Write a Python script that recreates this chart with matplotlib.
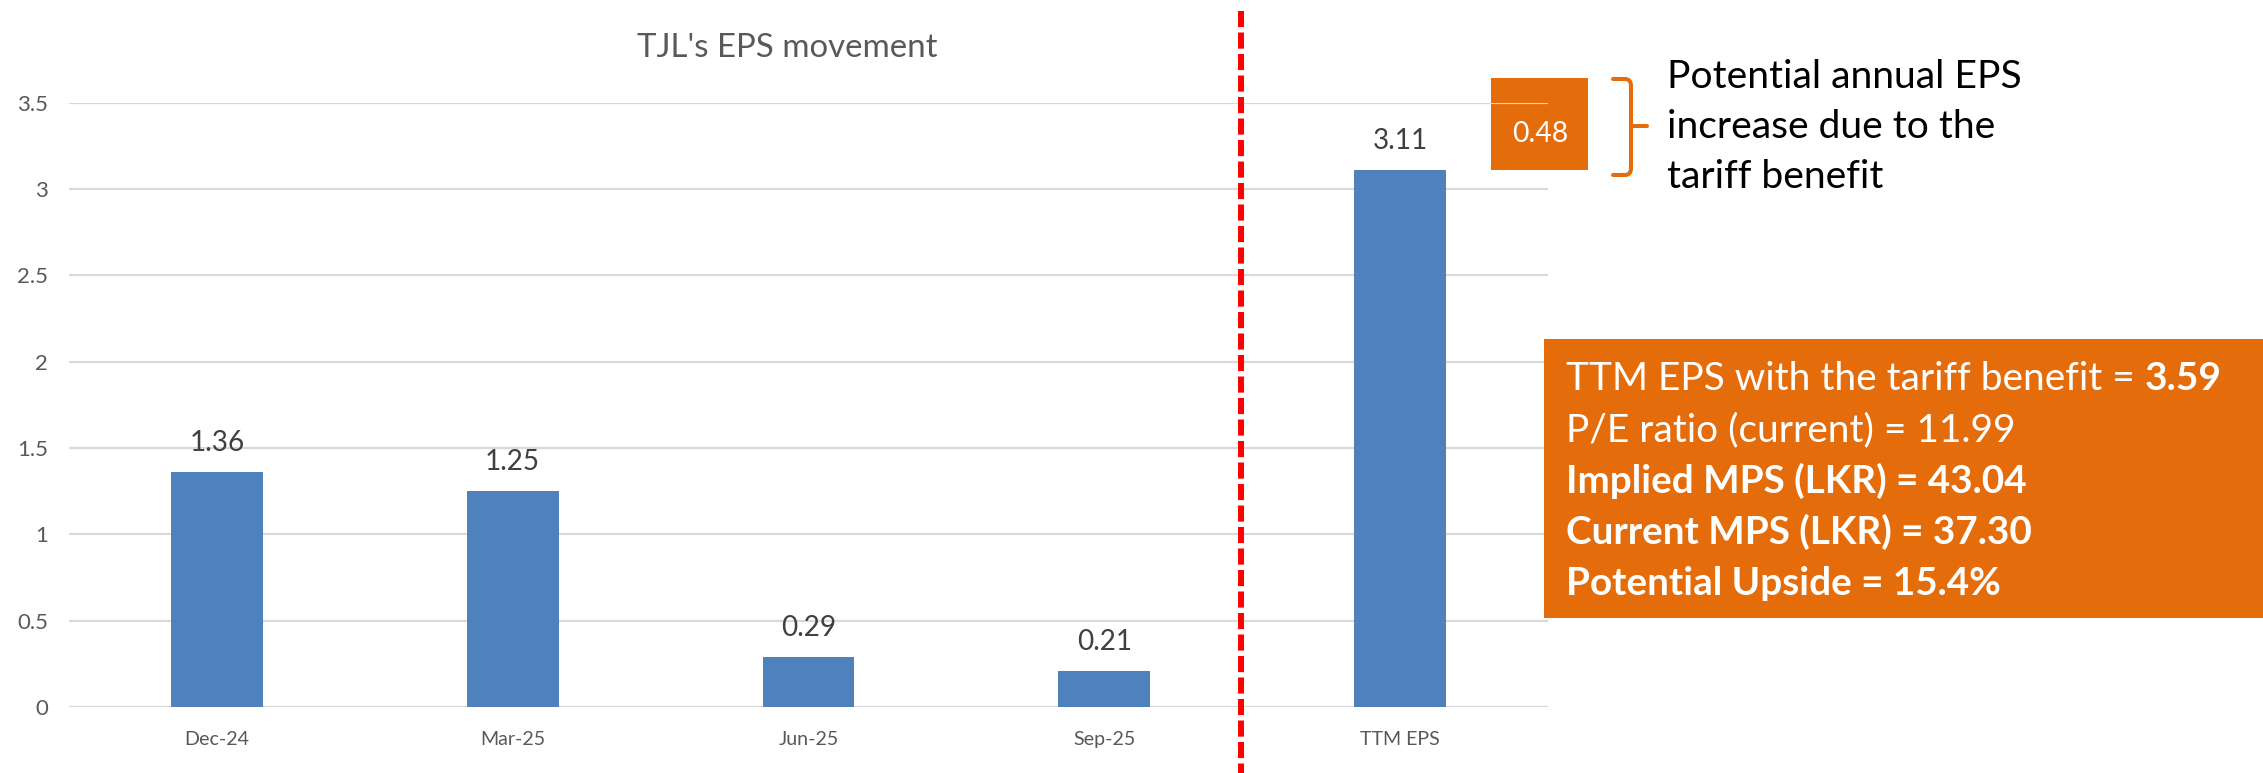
import matplotlib
matplotlib.use("Agg")
import matplotlib.pyplot as plt
from matplotlib.patches import Rectangle, PathPatch
from matplotlib.path import Path
from matplotlib.lines import Line2D

# ---------------- data ----------------
categories = ["Dec-24", "Mar-25", "Jun-25", "Sep-25", "TTM EPS"]
eps_values = [1.36, 1.25, 0.29, 0.21, 3.11]
y_ticks = [0, 0.5, 1, 1.5, 2, 2.5, 3, 3.5]
y_tick_labels = ["0", "0.5", "1", "1.5", "2", "2.5", "3", "3.5"]
tariff_increase = 0.48
title_text = "TJL's EPS movement"
note_lines = ["Potential annual EPS", "increase due to the", "tariff benefit"]
box_line1_regular = "TTM EPS with the tariff benefit = "
box_line1_bold = "3.59"
box_line2 = "P/E ratio (current) = 11.99"
box_bold_lines = ["Implied MPS (LKR) = 43.04", "Current MPS (LKR) = 37.30",
                  "Potential Upside = 15.4%"]

# ---------------- style ----------------
W, H = 2263, 773
DPI = 100
FONT = ["Lato", "DejaVu Sans"]
BLUE = "#4F81BD"
ORANGE = "#E46C0A"
GRID = "#D9D9D9"
GRAY = "#595959"
DARK = "#404040"

plt.rcParams["font.family"] = FONT

fig = plt.figure(figsize=(W / DPI, H / DPI), dpi=DPI)
renderer = fig.canvas.get_renderer()


def fx(x):
    return x / W


def fy(y):
    return 1 - y / H


def size_for(text, target_px, weight="normal"):
    t = fig.text(0, 0, text, fontsize=10, weight=weight)
    w = t.get_window_extent(renderer).width
    t.remove()
    return 10 * target_px / w


ax_left, ax_right, ax_top, ax_bottom = 69, 1548, 102.7, 707
ax = fig.add_axes([fx(ax_left), fy(ax_bottom), fx(ax_right - ax_left),
                   (ax_bottom - ax_top) / H])
ax.patch.set_visible(False)

x = list(range(len(categories)))
ax.bar(x, eps_values, width=0.31, color=BLUE, zorder=2)
ax.set_xlim(-0.5, len(categories) - 0.5)
ax.set_ylim(0, 3.5)
ax.set_yticks(y_ticks)

tick_fs = size_for("3.5", 31)
xt_fs = size_for("Dec-24", 65)
ax.set_yticklabels(y_tick_labels, fontsize=tick_fs, color=GRAY)
ax.set_xticks(x)
ax.set_xticklabels(categories, fontsize=xt_fs, color=GRAY)
ax.tick_params(axis="both", length=0)
ax.tick_params(axis="y", pad=15)
ax.tick_params(axis="x", pad=17)
for s in ax.spines.values():
    s.set_visible(False)
ax.grid(axis="y", color=GRID, linewidth=1.6, zorder=0)
ax.set_axisbelow(True)

lab_fs = size_for("0.29", 55)
for xi, v in zip(x, eps_values):
    ax.annotate(f"{v:.2f}", xy=(xi, v), xytext=(0, 21), textcoords="offset points",
                ha="center", va="center", fontsize=lab_fs, color=DARK)

# title
fig.text(fx(787), fy(48), title_text, ha="center", va="center",
         fontsize=size_for(title_text, 299), color=GRAY)

# red dashed separator
fig.add_artist(Line2D([fx(1241), fx(1241)], [fy(11), 0], color="#FF0000",
                      linewidth=4.3, dashes=(2.7, 0.9), zorder=3))

# small orange box (behind gridlines)
fig.add_artist(Rectangle((fx(1491), fy(170)), fx(1588 - 1491), (170 - 78) / H,
                         facecolor=ORANGE, edgecolor="none", zorder=-1))
fig.text(fx(1540), fy(134), f"{tariff_increase:.2f}", ha="center", va="center",
         fontsize=size_for("0.48", 56), color="white", zorder=4)

# brace
verts = [(1613, 79), (1625, 79), (1631, 79), (1631, 86), (1631, 168),
         (1631, 175), (1625, 175), (1613, 175)]
codes = [Path.MOVETO, Path.LINETO, Path.CURVE3, Path.CURVE3, Path.LINETO,
         Path.CURVE3, Path.CURVE3, Path.LINETO]
brace = Path([(fx(a), fy(b)) for a, b in verts], codes)
fig.add_artist(PathPatch(brace, facecolor="none", edgecolor=ORANGE, linewidth=2.9,
                         capstyle="round", joinstyle="round",
                         transform=fig.transFigure))
fig.add_artist(Line2D([fx(1631), fx(1647)], [fy(126), fy(126)], color=ORANGE,
                      linewidth=2.9, solid_capstyle="round"))

note_fs = size_for(note_lines[0], 353)
for line, base in zip(note_lines, [88, 138, 188]):
    fig.text(fx(1667), fy(base), line, ha="left", va="baseline",
             fontsize=note_fs, color="black")

# big orange box
fig.add_artist(Rectangle((fx(1544), fy(618)), fx(2263 - 1544), (618 - 339) / H,
                         facecolor=ORANGE, edgecolor="none", zorder=5))
box_fs = size_for(box_line2, 450)
bold_fs = size_for(box_bold_lines[0], 462, "bold")
t1 = fig.text(fx(1566), fy(390), box_line1_regular, ha="left", va="baseline",
              fontsize=box_fs, color="white", zorder=6)
fig.canvas.draw()
bb = t1.get_window_extent(renderer)
fig.text(bb.x1 / W, fy(390), box_line1_bold, ha="left", va="baseline",
         fontsize=box_fs, color="white", weight="bold", zorder=6)
fig.text(fx(1566), fy(441), box_line2, ha="left", va="baseline",
         fontsize=box_fs, color="white", zorder=6)
for line, base in zip(box_bold_lines, [493, 544, 595]):
    fig.text(fx(1566), fy(base), line, ha="left", va="baseline",
             fontsize=bold_fs, color="white", weight="bold", zorder=6)

fig.savefig("out.png", dpi=DPI)
